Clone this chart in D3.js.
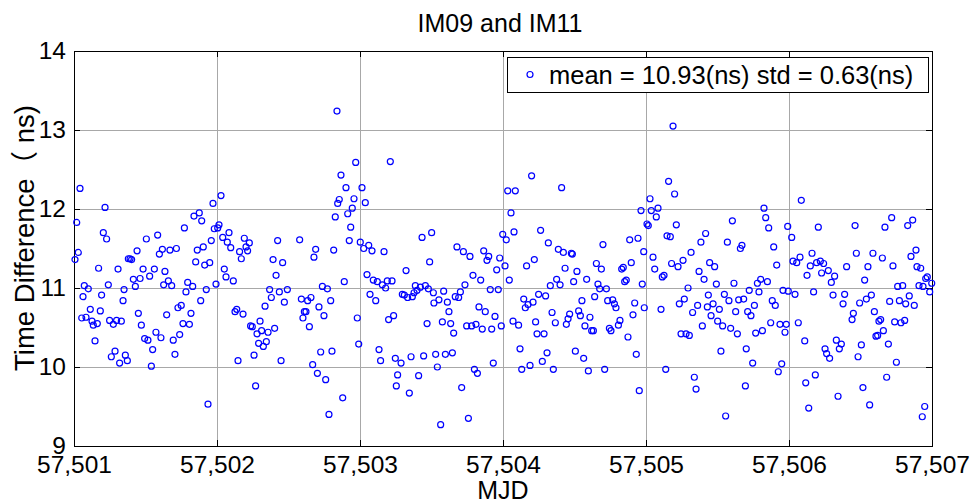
<!DOCTYPE html>
<html>
<head>
<meta charset="utf-8">
<script src="https://cdnjs.cloudflare.com/ajax/libs/d3/7.8.5/d3.min.js"></script>
<style>
  body{margin:0;background:#fff;}
  text{font-family:"Liberation Sans",Arial,"Noto Sans CJK SC",sans-serif;fill:#000;}
</style>
</head>
<body>
<div id="chart"></div>
<script>

var title   = "IM09 and IM11";
var xLabel  = "MJD";
var yLabel  = "Time Difference\uff08 ns)";
var legendText = "mean = 10.93(ns) std = 0.63(ns)";

var xTicks = [57501,57502,57503,57504,57505,57506,57507];
var yTicks = [9,10,11,12,13,14];

// MJD of each sample
var mjd = [
  57501.007,57501.019,57501.030,57501.042,57501.054,57501.063,57501.072,57501.084,57501.100,57501.114,
  57501.126,57501.135,57501.147,57501.163,57501.172,57501.184,57501.193,57501.205,57501.217,57501.228,
  57501.240,57501.249,57501.261,57501.275,57501.287,57501.298,57501.308,57501.319,57501.331,57501.343,
  57501.350,57501.359,57501.373,57501.380,57501.392,57501.403,57501.415,57501.429,57501.441,57501.450,
  57501.462,57501.471,57501.483,57501.494,57501.506,57501.517,57501.529,57501.541,57501.550,57501.562,
  57501.573,57501.585,57501.597,57501.608,57501.618,57501.627,57501.636,57501.648,57501.660,57501.671,
  57501.683,57501.694,57501.706,57501.716,57501.727,57501.739,57501.750,57501.762,57501.772,57501.783,
  57501.795,57501.807,57501.818,57501.830,57501.839,57501.851,57501.862,57501.876,57501.886,57501.893,
  57501.904,57501.914,57501.925,57501.937,57501.949,57501.960,57501.972,57501.981,57501.993,
  57502.005,57502.014,57502.028,57502.040,57502.051,57502.063,57502.072,57502.084,57502.096,57502.114,
  57502.126,57502.138,57502.147,57502.158,57502.170,57502.182,57502.191,57502.203,57502.214,57502.226,
  57502.235,57502.247,57502.259,57502.270,57502.280,57502.291,57502.301,57502.312,57502.324,57502.336,
  57502.345,57502.357,57502.368,57502.380,57502.392,57502.403,57502.413,57502.424,57502.436,57502.448,
  57502.459,57502.471,57502.492,57502.578,57502.590,57502.601,57502.611,57502.622,57502.634,57502.646,
  57502.657,57502.669,57502.678,57502.690,57502.702,57502.713,57502.725,57502.737,57502.748,57502.760,
  57502.772,57502.783,57502.795,57502.804,57502.816,57502.827,57502.839,57502.844,57502.855,57502.867,
  57502.879,57502.890,57502.902,57502.914,57502.925,57502.935,57502.946,57502.958,57502.970,57502.981,
  57502.991,
  57503.002,57503.014,57503.026,57503.037,57503.049,57503.061,57503.070,57503.084,57503.093,57503.110,
  57503.121,57503.133,57503.144,57503.156,57503.168,57503.179,57503.191,57503.200,57503.212,57503.224,
  57503.235,57503.247,57503.254,57503.263,57503.287,57503.296,57503.310,57503.322,57503.333,57503.345,
  57503.357,57503.366,57503.378,57503.387,57503.399,57503.410,57503.422,57503.434,57503.445,57503.457,
  57503.469,57503.478,57503.487,57503.501,57503.513,57503.517,57503.529,57503.541,57503.552,57503.564,
  57503.576,57503.585,57503.597,57503.611,57503.622,57503.634,57503.646,57503.655,57503.666,57503.678,
  57503.690,57503.702,57503.711,57503.723,57503.734,57503.746,57503.758,57503.769,57503.781,57503.790,
  57503.800,57503.811,57503.821,57503.832,57503.844,57503.855,57503.865,57503.876,57503.888,57503.900,
  57503.911,57503.921,57503.932,57503.944,57503.956,57503.967,57503.977,57503.988,57503.998,
  57504.014,57504.023,57504.033,57504.044,57504.056,57504.070,57504.077,57504.086,57504.109,57504.119,
  57504.131,57504.145,57504.156,57504.165,57504.175,57504.189,57504.200,57504.210,57504.219,57504.228,
  57504.238,57504.249,57504.263,57504.275,57504.287,57504.298,57504.308,57504.317,57504.331,57504.343,
  57504.352,57504.366,57504.375,57504.387,57504.399,57504.410,57504.422,57504.434,57504.443,57504.455,
  57504.466,57504.478,57504.485,57504.494,57504.506,57504.517,57504.529,57504.541,57504.552,57504.564,
  57504.573,57504.585,57504.597,57504.608,57504.620,57504.632,57504.641,57504.653,57504.664,57504.676,
  57504.688,57504.699,57504.711,57504.723,57504.732,57504.744,57504.755,57504.767,57504.779,57504.790,
  57504.807,57504.818,57504.830,57504.841,57504.851,57504.862,57504.874,57504.886,57504.897,57504.909,
  57504.921,57504.932,57504.944,57504.953,57504.965,57504.974,57504.984,57504.988,
  57505.007,57505.016,57505.028,57505.037,57505.049,57505.061,57505.072,57505.084,57505.105,57505.114,
  57505.126,57505.138,57505.147,57505.158,57505.170,57505.179,57505.189,57505.200,57505.212,57505.224,
  57505.233,57505.245,57505.259,57505.268,57505.280,57505.294,57505.303,57505.315,57505.326,57505.338,
  57505.350,57505.361,57505.371,57505.384,57505.394,57505.406,57505.417,57505.429,57505.436,57505.445,
  57505.455,57505.469,57505.480,57505.492,57505.501,57505.513,57505.524,57505.536,57505.548,57505.557,
  57505.569,57505.580,57505.592,57505.604,57505.615,57505.627,57505.639,57505.648,57505.660,57505.671,
  57505.683,57505.695,57505.701,57505.711,57505.722,57505.734,57505.746,57505.758,57505.767,57505.779,
  57505.790,57505.802,57505.814,57505.825,57505.837,57505.849,57505.858,57505.872,57505.883,57505.893,
  57505.904,57505.914,57505.925,57505.937,57505.949,57505.958,57505.972,57505.981,57505.991,57505.995,
  57506.019,57506.028,57506.042,57506.054,57506.065,57506.077,57506.086,57506.110,57506.117,57506.126,
  57506.138,57506.149,57506.161,57506.172,57506.184,57506.193,57506.205,57506.219,57506.228,57506.242,
  57506.252,57506.263,57506.275,57506.284,57506.296,57506.308,57506.319,57506.331,57506.343,57506.352,
  57506.366,57506.378,57506.389,57506.403,57506.441,57506.450,57506.462,57506.471,57506.483,57506.494,
  57506.506,57506.517,57506.529,57506.541,57506.552,57506.564,57506.576,57506.587,57506.597,57506.608,
  57506.620,57506.629,57506.641,57506.653,57506.660,57506.671,57506.683,57506.695,57506.704,57506.718,
  57506.727,57506.739,57506.751,57506.760,57506.772,57506.783,57506.795,57506.809,57506.816,57506.830,
  57506.841,57506.853,57506.865,57506.876,57506.888,57506.895,57506.909,57506.921,57506.932,57506.937,
  57506.949,57506.956,57506.967,57506.984,57506.998
];

// time difference (ns) for each sample
var timeDiff = [
  11.36,11.83,11.45,12.26,10.62,10.89,11.03,10.63,10.99,10.73,
  10.58,10.53,10.33,10.55,11.25,10.71,10.91,11.70,12.02,11.62,
  11.04,10.59,10.13,10.54,10.20,10.59,11.24,10.05,10.58,10.84,
  10.98,10.15,10.08,11.37,11.37,11.36,11.11,11.02,11.47,10.68,
  11.12,10.53,11.24,10.36,11.62,10.34,11.15,10.01,10.22,11.24,
  10.44,11.67,11.43,10.37,11.49,11.04,11.21,10.66,11.09,11.48,
  11.03,10.34,10.16,11.50,10.75,10.41,10.78,10.55,11.76,10.95,
  11.07,10.54,10.68,11.02,11.91,11.33,11.48,11.95,10.84,11.85,
  11.52,11.29,10.98,9.53,11.32,11.60,12.07,11.75,11.05,
  11.76,11.80,12.17,11.64,11.24,11.14,11.58,11.70,11.51,11.09,
  10.70,10.73,10.08,11.46,11.37,10.67,11.63,11.52,11.47,11.57,
  10.52,10.51,10.15,9.76,10.42,10.30,10.58,10.46,10.26,10.77,
  10.32,10.44,10.98,10.88,11.36,10.49,11.16,11.60,10.95,10.08,
  11.32,10.82,10.98,11.61,10.86,10.62,10.70,10.70,10.84,10.51,
  10.88,10.03,11.39,11.49,9.92,10.76,10.19,11.02,10.65,9.84,
  10.99,9.40,10.84,10.20,11.48,11.90,13.24,12.07,12.12,12.43,
  9.61,11.08,12.27,11.94,11.60,11.77,12.01,12.13,12.59,10.62,
  10.29,
  11.58,12.27,11.50,12.08,11.17,11.54,10.92,11.47,11.10,10.84,
  11.08,10.22,10.08,11.04,11.46,11.00,11.09,10.60,12.60,11.09,
  10.65,10.11,9.76,9.90,10.05,10.92,10.91,11.22,10.88,9.67,
  10.13,10.89,10.94,11.03,10.97,9.89,11.01,11.64,10.14,11.03,
  10.55,10.99,11.33,11.70,10.94,10.81,10.16,10.00,10.85,9.27,
  10.57,10.96,10.16,10.82,10.70,10.55,10.18,10.43,10.89,11.52,
  10.88,10.95,9.74,11.46,11.04,10.52,9.35,11.40,10.52,11.16,
  9.97,10.54,9.92,10.76,11.10,10.48,11.47,10.70,11.35,11.40,
  10.98,10.48,10.05,10.64,11.23,10.98,11.38,10.52,11.68,
  11.28,11.61,12.23,11.10,11.95,10.58,11.71,12.23,10.53,10.23,
  9.97,10.86,10.75,11.28,10.79,10.02,12.42,10.82,11.36,10.57,
  10.42,10.92,11.73,10.07,10.42,10.90,10.18,11.57,11.03,10.69,
  9.97,10.56,11.11,11.49,11.04,12.27,11.45,11.25,10.54,10.61,
  10.67,11.44,11.43,11.08,10.20,11.21,10.71,10.65,10.84,10.11,
  10.52,11.11,9.95,10.63,10.46,10.46,10.89,11.31,11.05,10.99,
  11.24,11.55,9.97,10.99,10.84,10.49,10.46,10.85,10.80,10.75,
  10.53,10.59,11.24,11.26,11.08,11.10,10.38,11.61,11.32,10.66,
  10.81,10.16,11.63,9.70,11.98,11.05,11.46,10.75,
  11.81,11.79,12.13,11.98,11.39,11.24,11.90,12.01,10.73,11.14,
  11.16,9.97,11.66,12.35,11.65,11.31,13.05,12.19,11.80,11.27,
  10.80,10.42,11.35,10.86,10.42,11.00,10.40,11.45,10.69,9.87,
  9.72,10.78,11.21,11.58,10.52,11.11,11.69,10.76,10.91,11.32,
  10.65,10.80,11.27,11.05,10.58,10.73,10.20,10.52,10.92,9.38,
  11.58,10.84,10.49,11.85,11.06,10.70,10.42,10.85,11.50,11.54,
  10.86,9.76,10.23,10.70,10.97,10.65,10.05,10.78,10.43,11.06,
  10.95,11.11,10.46,12.01,11.89,11.08,11.76,10.56,10.84,11.52,
  10.78,11.29,9.94,10.54,10.04,10.97,10.44,10.54,11.78,10.96,
  11.64,11.34,10.92,11.32,10.56,11.39,12.11,10.33,9.80,11.16,
  9.48,11.28,11.44,10.95,9.90,11.32,11.77,11.34,11.19,11.31,
  10.23,10.17,11.22,10.11,11.07,10.91,11.15,10.34,9.63,10.23,
  10.29,10.80,10.92,11.27,10.60,10.68,11.79,11.44,10.13,10.81,
  10.28,9.74,11.10,10.86,11.27,9.52,10.91,11.44,10.70,10.39,
  10.40,10.58,10.60,11.38,10.46,11.77,9.87,10.29,10.83,11.89,
  11.28,10.57,10.06,11.02,10.84,10.56,11.03,10.59,10.80,11.79,
  10.90,11.40,11.86,10.78,11.48,11.27,11.03,11.25,9.37,11.02,
  9.50,11.12,11.14,10.95,11.06
];


var margin = {top: 51, right: 46, bottom: 57, left: 74};
var svgWidth  = 978;
var svgHeight = 503;
var width  = svgWidth  - margin.left - margin.right;
var height = svgHeight - margin.top  - margin.bottom;

var markerR = 3;

var points = d3.zip(mjd,timeDiff);

var x = d3.scaleLinear()
  .domain([57501,57507])
  .range([0,width]);

var y = d3.scaleLinear()
  .domain([9,14])
  .range([height,0]);

var svg = d3.select("#chart")
  .append("svg")
    .attr("width",svgWidth)
    .attr("height",svgHeight);

var g = svg.append("g")
  .attr("transform","translate("+margin.left+","+margin.top+")");

//......................... Grid ..............................
g.append("g")
  .attr("class","grid")
  .selectAll("line.gx")
  .data(xTicks.slice(1,-1))
  .enter()
  .append("line")
    .attr("x1",function(d){return Math.round(x(d))+0.5})
    .attr("x2",function(d){return Math.round(x(d))+0.5})
    .attr("y1",0)
    .attr("y2",height)
    .attr("stroke","#a8a8a8");

g.append("g")
  .attr("class","grid")
  .selectAll("line.gy")
  .data(yTicks.slice(1,-1))
  .enter()
  .append("line")
    .attr("x1",0)
    .attr("x2",width)
    .attr("y1",function(d){return Math.round(y(d))+0.5})
    .attr("y2",function(d){return Math.round(y(d))+0.5})
    .attr("stroke","#a8a8a8");

//......................... Axes ..............................
var xAxisBottom = d3.axisBottom(x)
  .tickValues(xTicks)
  .tickSize(-6)
  .tickPadding(10)
  .tickFormat(d3.format(","));

var xAxisTop = d3.axisTop(x)
  .tickValues(xTicks)
  .tickSize(-6)
  .tickFormat("");

var yAxisLeft = d3.axisLeft(y)
  .tickValues(yTicks)
  .tickSize(-6)
  .tickPadding(8)
  .tickFormat(d3.format("d"));

var yAxisRight = d3.axisRight(y)
  .tickValues(yTicks)
  .tickSize(-6)
  .tickFormat("");

function styleAxis(sel){
  sel.select(".domain").remove();
  sel.selectAll(".tick line").attr("stroke","#000");
  sel.selectAll(".tick text")
    .style("font-size","24.5px")
    .attr("fill","#000");
}

g.append("g")
  .attr("transform","translate(0,"+height+")")
  .call(xAxisBottom)
  .call(styleAxis);

g.append("g")
  .call(xAxisTop)
  .call(styleAxis);

g.append("g")
  .call(yAxisLeft)
  .call(styleAxis);

g.append("g")
  .attr("transform","translate("+width+",0)")
  .call(yAxisRight)
  .call(styleAxis);

// axes box
g.append("rect")
  .attr("x",0.5)
  .attr("y",0.5)
  .attr("width",width)
  .attr("height",height)
  .attr("fill","none")
  .attr("stroke","#000");

//......................... Points ............................
g.append("g")
  .attr("class","points")
  .selectAll("circle")
  .data(points)
  .enter()
  .append("circle")
    .attr("cx",function(d){return x(d[0])})
    .attr("cy",function(d){return y(d[1])})
    .attr("r",markerR)
    .attr("fill","none")
    .attr("stroke","#0000ff")
    .attr("stroke-width",1.2);

//......................... Legend ............................
var legend = g.append("g")
  .attr("class","legend")
  .attr("transform","translate("+(width-425)+",6)");

legend.append("rect")
  .attr("x",0.5)
  .attr("y",0.5)
  .attr("width",421)
  .attr("height",35)
  .attr("fill","#fff")
  .attr("stroke","#000");

legend.append("circle")
  .attr("cx",23)
  .attr("cy",17.5)
  .attr("r",markerR)
  .attr("fill","none")
  .attr("stroke","#0000ff")
  .attr("stroke-width",1.2);

legend.append("text")
  .attr("x",42)
  .attr("y",27)
  .style("font-size","25.5px")
  .text(legendText);

//......................... Labels ............................
svg.append("text")
  .attr("x",margin.left+width/2-3)
  .attr("y",32)
  .attr("text-anchor","middle")
  .style("font-size","25px")
  .text(title);

svg.append("text")
  .attr("x",margin.left+width/2)
  .attr("y",499)
  .attr("text-anchor","middle")
  .style("font-size","25px")
  .text(xLabel);

svg.append("text")
  .attr("transform","translate(34,238) rotate(-90)")
  .attr("text-anchor","middle")
  .style("font-size","27.5px")
  .text(yLabel);

</script>
</body>
</html>
